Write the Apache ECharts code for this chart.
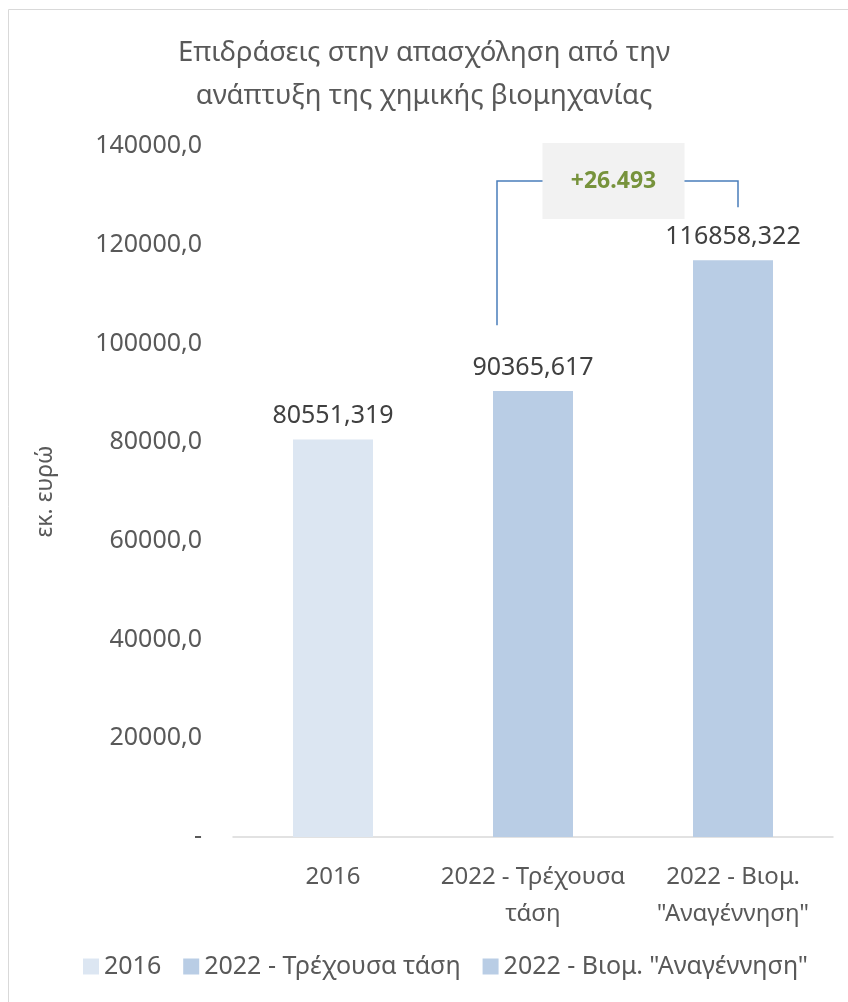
<!DOCTYPE html>
<html><head><meta charset="utf-8">
<script src="https://cdn.jsdelivr.net/npm/echarts@6/dist/echarts.min.js"></script>
<style>html,body{margin:0;padding:0;background:#fff}#c{width:848px;height:1002px}</style>
</head><body><div id="c"></div>
<script>
const categories = ['2016', '2022 - Τρέχουσα\nτάση', '2022 - Βιομ.\n"Αναγέννηση"'];
const seriesNames = ['2016', '2022 - Τρέχουσα τάση', '2022 - Βιομ. "Αναγέννηση"'];
const values = [80551.319, 90365.617, 116858.322];
const barColors = ['#dce6f2', '#b9cde5', '#b9cde5'];
const yTicks = [0, 20000, 40000, 60000, 80000, 100000, 120000, 140000];
const diffLabel = '+26.493';
const bracketLeftBottom = 103700, bracketTop = 132900, bracketRightBottom = 127600;

const FONT = '"Noto Sans", sans-serif';
const chart = echarts.init(document.getElementById('c'));
const series = values.map((v, i) => ({
  name: seriesNames[i], type: 'bar', barWidth: 80, barGap: '-100%',
  data: values.map((x, j) => j === i ? x : null),
  itemStyle: {color: barColors[i]},
  label: {show: true, position: 'top', distance: 11, color: '#404040', fontSize: 25, fontFamily: FONT,
    formatter: p => p.value.toFixed(3).replace('.', ',')}
}));
chart.setOption({
  animation: false,
  title: {text: 'Επιδράσεις στην απασχόληση από την\nανάπτυξη της χημικής βιομηχανίας', left: 'center', top: 27,
    textStyle: {fontSize: 27.5, fontWeight: 'normal', color: '#595959', fontFamily: FONT, lineHeight: 43}},
  legend: {bottom: 18, left: 78, itemWidth: 16, itemHeight: 16, itemGap: 22,
    textStyle: {fontSize: 25, color: '#595959', fontFamily: FONT}, data: seriesNames, icon: 'rect'},
  grid: {left: 233, right: 15, top: 146, bottom: 165},
  xAxis: {type: 'category', data: categories,
    axisLine: {lineStyle: {color: '#d9d9d9', width: 1.5}}, axisTick: {show: false},
    axisLabel: {interval: 0, fontSize: 24, color: '#595959', fontFamily: FONT, lineHeight: 37, margin: 22}},
  yAxis: {type: 'value', min: 0, max: 140000, interval: 20000,
    name: 'εκ. ευρώ', nameLocation: 'middle', nameGap: 176, nameRotate: 90,
    nameTextStyle: {fontSize: 23, color: '#595959', fontFamily: FONT},
    axisLine: {show: false}, splitLine: {show: false}, axisTick: {show: false},
    axisLabel: {fontSize: 25, color: '#595959', fontFamily: FONT, margin: 31,
      formatter: v => v === 0 ? '-' : v.toFixed(1).replace('.', ',')}},
  series: series
});
const pL = chart.convertToPixel({gridIndex: 0}, [1, bracketLeftBottom]);
const pT = chart.convertToPixel({gridIndex: 0}, [1, bracketTop]);
const pR = chart.convertToPixel({gridIndex: 0}, [2, bracketRightBottom]);
const xl = pL[0] - 36, xr = pR[0] + 5, yt = pT[1];
const boxW = 142, boxH = 76, bx = (xl + xr) / 2 - 4 - boxW / 2;
chart.setOption({graphic: [
  {type: 'rect', shape: {x: 8.5, y: 9.5, width: 850, height: 1000}, style: {fill: null, stroke: '#d9d9d9', lineWidth: 1}},
  {type: 'polyline', shape: {points: [[xl, pL[1]], [xl, yt], [xr, yt], [xr, pR[1]]]}, style: {stroke: '#4a7ebb', lineWidth: 1.5, fill: null}},
  {type: 'rect', shape: {x: bx, y: yt - boxH / 2, width: boxW, height: boxH}, style: {fill: '#f2f2f2'}},
  {type: 'text', x: bx + boxW / 2, y: yt, style: {text: diffLabel, fill: '#77933c', fontSize: 23, fontWeight: 'bold', fontFamily: FONT, align: 'center', verticalAlign: 'middle'}}
]});
</script></body></html>
